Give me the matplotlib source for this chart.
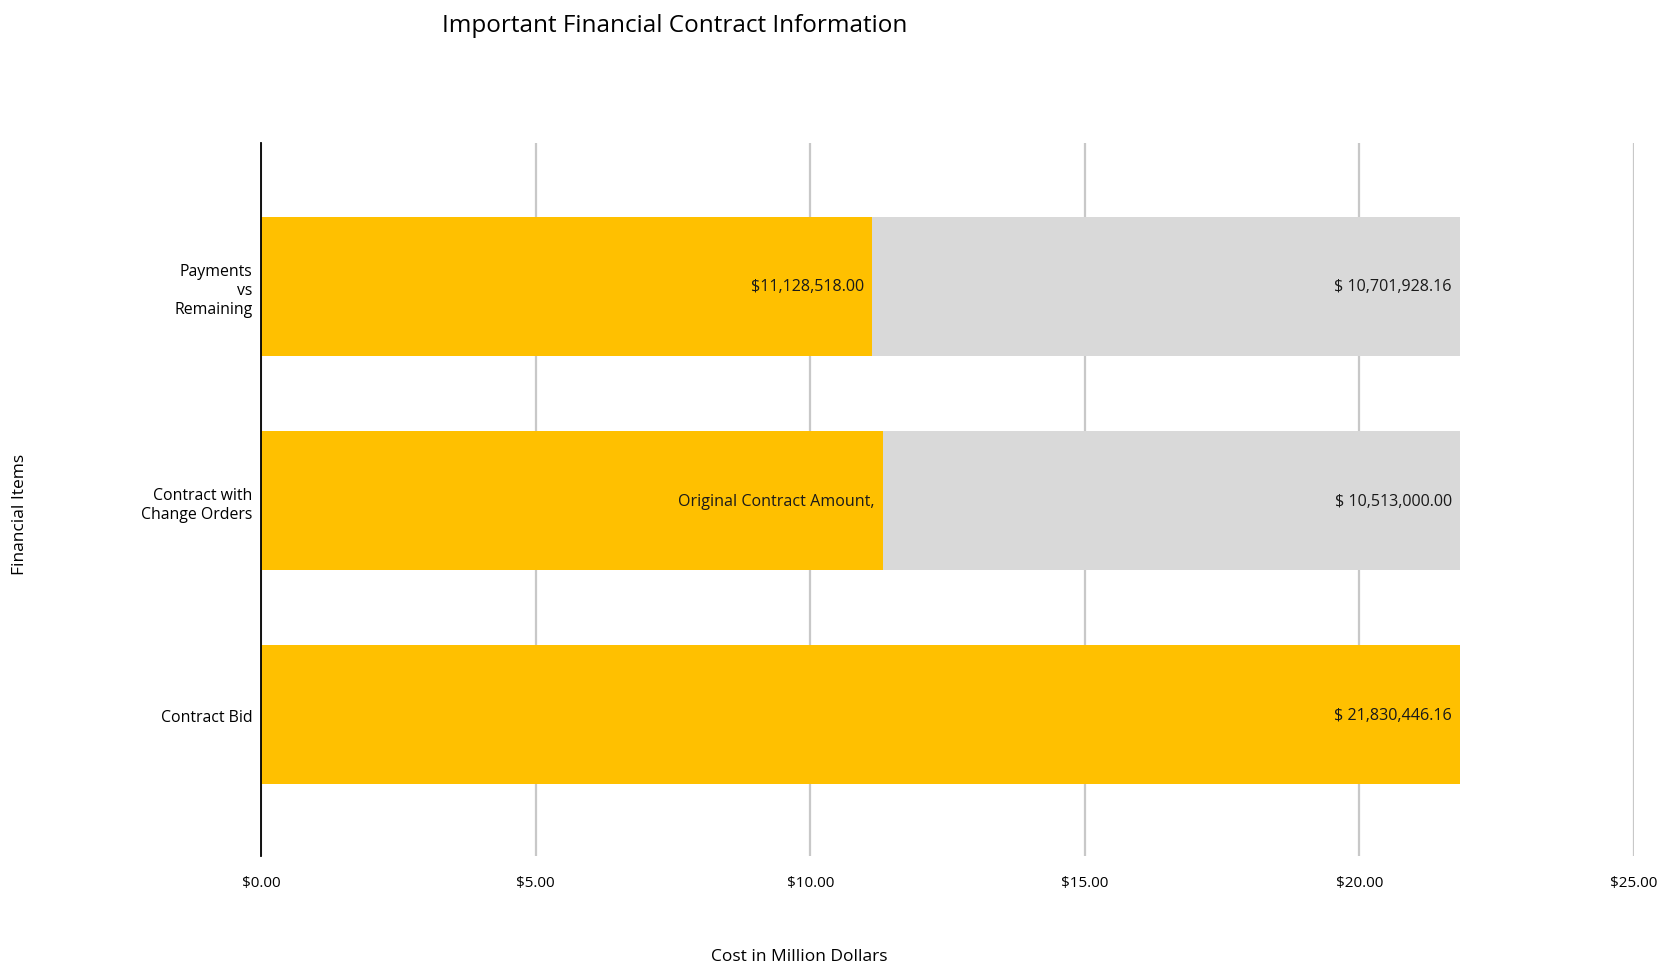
import matplotlib.pyplot as plt

plt.rcParams['font.family'] = ['Open Sans', 'DejaVu Sans']

# bottom to top
categories = ["Contract Bid", "Contract with\nChange Orders", "Payments\nvs\nRemaining"]
first_part = [21.83044616, 11.31744616, 11.128518]    # million dollars
second_part = [0.0, 10.513, 10.70192816]
first_labels = ["$ 21,830,446.16", "Original Contract Amount,", "$11,128,518.00"]
second_labels = ["", "$ 10,513,000.00", "$ 10,701,928.16"]
xticks = [0, 5, 10, 15, 20, 25]

YELLOW = "#FFC000"
GREY = "#D9D9D9"

fig = plt.figure(figsize=(16.69, 9.70), dpi=100)
ax = fig.add_axes([0.1564, 0.1165, 0.8226, 0.735])

ypos = list(range(len(categories)))
ax.barh(ypos, first_part, height=0.65, color=YELLOW, zorder=2)
ax.barh(ypos, second_part, left=first_part, height=0.65, color=GREY, zorder=2)

# value labels at the inner end of each segment
for y, a, b, la, lb in zip(ypos, first_part, second_part, first_labels, second_labels):
    ax.text(a - 0.15, y, la, ha="right", va="center", fontsize=11.6, color="#1a1a1a", zorder=3)
    if b > 0:
        ax.text(a + b - 0.15, y, lb, ha="right", va="center", fontsize=11.6, color="#1a1a1a", zorder=3)

ax.set_xlim(0, 25)
ax.set_ylim(-0.66, 2.67)
ax.set_xticks(xticks)
ax.set_xticklabels([f"${v:.2f}" for v in xticks], fontsize=11)
ax.set_yticks(ypos)
ax.set_yticklabels(categories, fontsize=11.4, multialignment="right", linespacing=1.25)
ax.tick_params(length=0, pad=6)
ax.tick_params(axis="x", pad=14)

ax.xaxis.grid(True, color="#C8C8C8", linewidth=1.6, zorder=0)
ax.set_axisbelow(True)
for s in ["top", "right", "bottom"]:
    ax.spines[s].set_visible(False)
ax.spines["left"].set_color("black")
ax.spines["left"].set_linewidth(1.3)
ax.spines["left"].set_zorder(4)

fig.text(0.404, 0.973, "Important Financial Contract Information", fontsize=17.5, ha="center", va="center")
fig.text(0.479, 0.005, "Cost in Million Dollars", fontsize=12.5, ha="center", va="bottom")
fig.text(0.012, 0.47, "Financial Items", fontsize=12.5, ha="center", va="center", rotation=90)

fig.savefig("out.png", dpi=100)
